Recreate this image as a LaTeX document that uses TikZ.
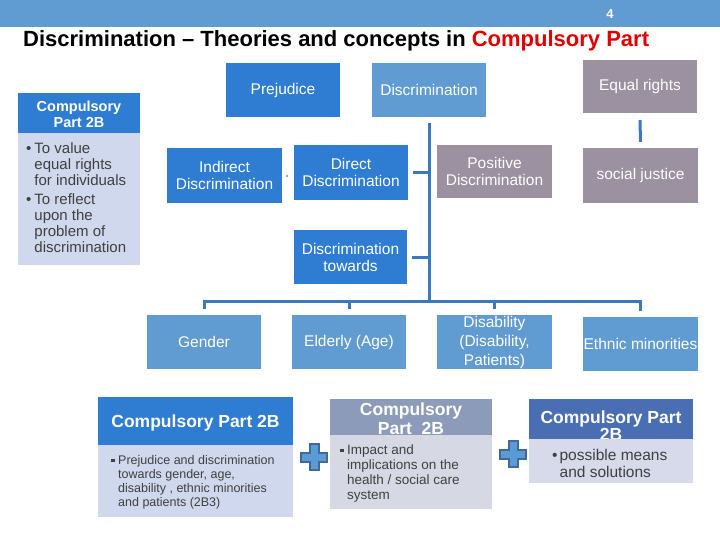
\documentclass[tikz,border=0pt]{standalone}
\usepackage{fontspec}
\setmainfont{Liberation Sans}

\definecolor{boxdark}{RGB}{46,125,210}
\definecolor{boxlight}{RGB}{96,155,210}
\definecolor{boxgray}{RGB}{155,145,160}
\definecolor{panel}{RGB}{207,216,236}
\definecolor{panelgray}{RGB}{214,217,228}
\definecolor{panelblue}{RGB}{214,218,234}
\definecolor{headgray}{RGB}{140,155,185}
\definecolor{headblue}{RGB}{74,110,180}
\definecolor{linkblue}{RGB}{58,120,195}
\definecolor{textgray}{RGB}{64,64,64}
\definecolor{titlered}{RGB}{225,0,0}
\definecolor{plusedge}{RGB}{65,105,154}
\definecolor{plusfill}{RGB}{91,155,213}

\begin{document}
\begin{tikzpicture}[x=1pt,y=-1pt]

\tikzset{box/.style={inner sep=0pt, minimum width=114pt, minimum height=54pt, align=center, text=white, font=\fontsize{15.5}{17}\selectfont}}
\tikzset{darkbox/.style={box, fill=boxdark}}
\tikzset{lightbox/.style={box, fill=boxlight}}
\tikzset{graybox/.style={box, fill=boxgray}}
\tikzset{link/.style={draw=linkblue, line width=3pt}}
\tikzset{headtext/.style={text=white, align=center, inner sep=0pt, font=\bfseries\fontsize{17.5}{19}\selectfont}}
\tikzset{bodytext/.style={text=textgray, align=left, anchor=base west, inner sep=0pt}}
\tikzset{plusmark/.style={fill=plusfill, draw=plusedge, line width=2pt}}

\useasboundingbox (0,0) rectangle (720,540);

% bar and title
\fill[boxlight] (0,0) rectangle (720,27);
\node[text=white, font=\bfseries\fontsize{13}{15}\selectfont] (pagenum) at (610,14) {4};
\node[anchor=base west, inner sep=0pt, font=\bfseries\fontsize{22}{26}\selectfont] (title) at (23,47)
    {Discrimination -- Theories and concepts in \textcolor{titlered}{Compulsory Part}};

% top row
\node[darkbox] (prejudice) at (283,90) {Prejudice};
\node[lightbox] (discrimination) at (429,90) {Discrimination};
\node[graybox, minimum height=53pt] (equalrights) at (640,86.5) {Equal rights};
\node[graybox, minimum width=115pt, minimum height=55pt] (justice) at (640.5,175.5) {social justice};

% second row
\node[darkbox, minimum width=115pt, minimum height=55pt] (indirect) at (224.5,175.5) {Indirect\\Discrimination};
\node[darkbox, minimum height=55pt] (direct) at (351,172.5) {Direct\\Discrimination};
\node[graybox, minimum width=115pt, minimum height=53pt] (positive) at (494.5,171.5) {Positive\\Discrimination};
\node[darkbox, minimum width=113pt] (towards) at (350.5,257) {Discrimination\\towards};
\fill[boxdark] (287,176) circle (1pt);

% groups
\node[lightbox] (gender) at (204,342) {Gender};
\node[lightbox] (elderly) at (349,342) {Elderly (Age)};
\node[lightbox, minimum width=115pt, font=\fontsize{15.5}{19}\selectfont] (disability) at (494.5,342) {Disability\\(Disability,\\Patients)};
\node[lightbox, minimum width=115pt] (ethnic) at (640.5,344) {Ethnic minorities};

% connectors
\coordinate (bus) at (429,301);
\draw[link] ([yshift=-6pt]discrimination.south) -- (bus);
\draw[link] ([xshift=5pt]direct.east) -- (direct.east -| bus);
\draw[link] ([xshift=5pt]towards.east) -- (towards.east -| bus);
\draw[link] ([yshift=6pt]gender.north) |- (bus) -| ([yshift=6pt]ethnic.north);
\foreach \g in {elderly, disability}
    \draw[link] (\g.north |- bus) -- ([yshift=6pt]\g.north);
\draw[link] ([yshift=-7pt]equalrights.south) -- ([yshift=6pt]justice.north);

% left panel
\node[fill=boxdark, minimum width=122pt, minimum height=40pt, inner sep=0pt] (lefthead) at (79,113) {};
\node[headtext, font=\bfseries\fontsize{14.5}{16}\selectfont] (lefttitle) at (79,114) {Compulsory\\Part 2B};
\node[fill=panel, minimum width=122pt, minimum height=132pt, inner sep=0pt] (leftbody) at (79,199) {};
\node[bodytext, font=\fontsize{15}{16}\selectfont] (lefttext) at (26,154)
    {\begin{tabular}[t]{@{}l@{\hspace{3pt}}l@{}}
    \textbullet & To value\\
     & equal rights\\
     & for individuals\\[3pt]
    \textbullet & To reflect\\
     & upon the\\
     & problem of\\
     & discrimination
    \end{tabular}};

% bottom panels
\node[fill=boxdark, minimum width=195pt, minimum height=48pt, inner sep=0pt] (genderhead) at (195.5,421) {};
\node[headtext] (gendertitle) at (195.5,423) {Compulsory Part 2B};
\node[fill=panel, minimum width=195pt, minimum height=72pt, inner sep=0pt] (genderbody) at (195.5,481) {};
\node[bodytext, font=\fontsize{12.5}{14}\selectfont] (gendertext) at (111,464)
    {\begin{tabular}[t]{@{}l@{\hspace{3.5pt}}l@{}}
    \rule[2pt]{3.5pt}{3.5pt} & Prejudice and discrimination\\
     & towards gender, age,\\
     & disability , ethnic minorities\\
     & and patients (2B3)
    \end{tabular}};

\node[fill=headgray, minimum width=162pt, minimum height=36pt, inner sep=0pt] (impacthead) at (411,417) {};
\node[headtext] (impacttitle) at (411,418.5) {Compulsory\\Part~~2B};
\node[fill=panelgray, minimum width=162pt, minimum height=74pt, inner sep=0pt] (impactbody) at (411,472) {};
\node[bodytext, font=\fontsize{13.5}{15}\selectfont] (impacttext) at (340,454)
    {\begin{tabular}[t]{@{}l@{\hspace{3.5pt}}l@{}}
    \rule[2pt]{3.5pt}{3.5pt} & Impact and\\
     & implications on the\\
     & health / social care\\
     & system
    \end{tabular}};

\node[fill=headblue, minimum width=164pt, minimum height=40pt, inner sep=0pt] (meanshead) at (611,419) {};
\node[headtext, font=\bfseries\fontsize{17.5}{17}\selectfont] (meanstitle) at (611,425.5) {Compulsory Part\\2B};
\node[fill=panelblue, minimum width=164pt, minimum height=44pt, inner sep=0pt] (meansbody) at (611,461) {};
\node[bodytext, font=\fontsize{15.5}{17}\selectfont] (meanstext) at (552,460)
    {\begin{tabular}[t]{@{}l@{\hspace{2pt}}l@{}}
    \textbullet & possible means\\
     & and solutions
    \end{tabular}};

% plus signs
\foreach \x/\y in {314/457, 513/454}
    \filldraw[plusmark] (\x-4.5,\y-13) -- ++(9,0) -- ++(0,8.5) -- ++(8.5,0) -- ++(0,9) -- ++(-8.5,0)
        -- ++(0,8.5) -- ++(-9,0) -- ++(0,-8.5) -- ++(-8.5,0) -- ++(0,-9) -- ++(8.5,0) -- cycle;

\end{tikzpicture}
\end{document}
